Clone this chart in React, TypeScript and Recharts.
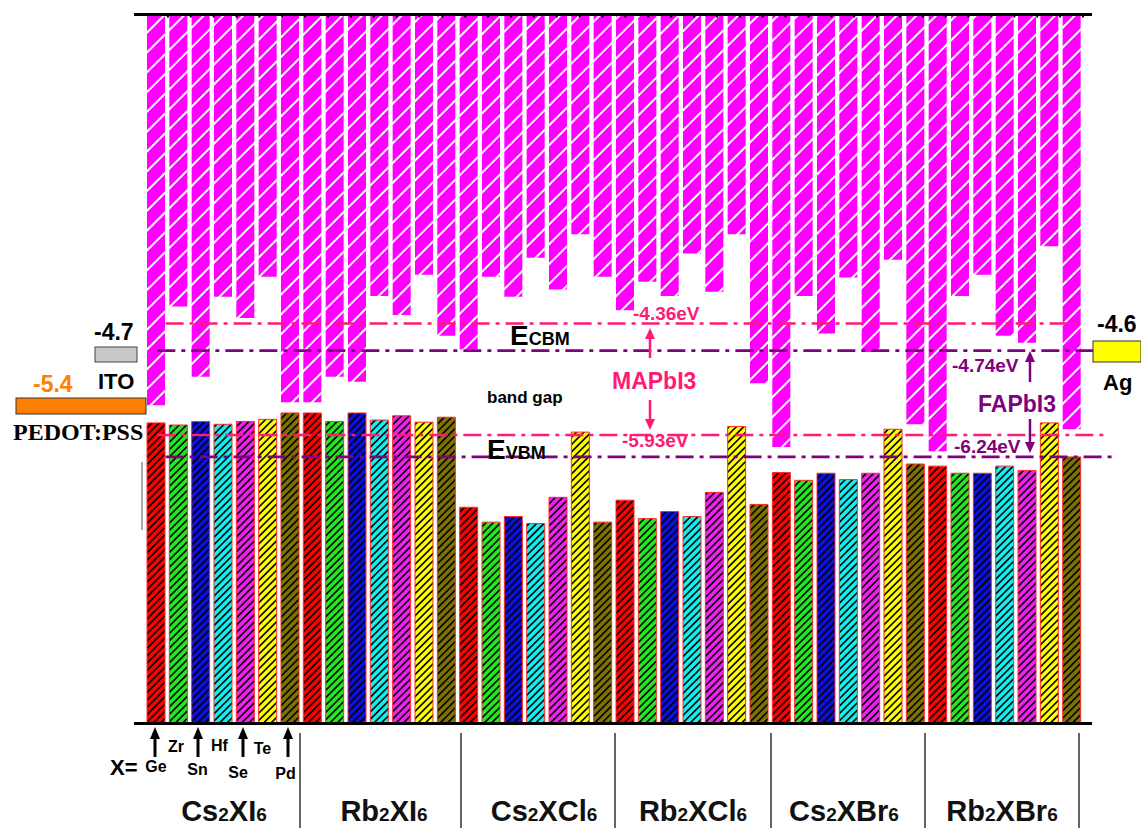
import { BarChart, Bar, XAxis, YAxis, Cell, ReferenceLine } from "recharts";

// compound groups and the X element in each bar
const groups = ["Cs2XI6", "Rb2XI6", "Cs2XCl6", "Rb2XCl6", "Cs2XBr6", "Rb2XBr6"];
const elements = ["Ge", "Zr", "Sn", "Hf", "Se", "Te", "Pd"];
const elementColors = ["#ff0000", "#22e822", "#0a10dd", "#10f0f0", "#f020f0", "#ffff00", "#7d7200"];

// conduction band minimum (eV)
const cbmValues = [
  -5.51, -4.12, -5.11, -3.98, -4.28, -3.7, -5.47,
  -5.47, -5.11, -5.18, -3.97, -4.24, -3.67, -4.53,
  -4.72, -3.7, -3.98, -3.43, -3.88, -3.1, -3.7,
  -4.17, -3.77, -3.97, -3.37, -3.91, -3.1, -5.2,
  -6.1, -3.97, -4.5, -3.71, -4.76, -3.46, -5.78,
  -6.16, -3.97, -3.67, -4.53, -4.63, -3.27, -5.85,
];

// valence band maximum (eV)
const vbmValues = [
  -5.76, -5.79, -5.74, -5.78, -5.74, -5.71, -5.62,
  -5.62, -5.74, -5.62, -5.72, -5.66, -5.75, -5.68,
  -6.95, -7.16, -7.08, -7.18, -6.81, -5.89, -7.16,
  -6.85, -7.11, -7.01, -7.08, -6.74, -5.81, -6.91,
  -6.46, -6.57, -6.47, -6.56, -6.47, -5.85, -6.34,
  -6.37, -6.47, -6.47, -6.37, -6.43, -5.76, -6.24,
];

const Y_MIN = -10;
const Y_MAX = 0;

// reference absorber levels
const mapiCbm = -4.36;
const mapiVbm = -5.93;
const fapiCbm = -4.74;
const fapiVbm = -6.24;

const data = cbmValues.map((cbm, i) => {
  const vbm = vbmValues[i];
  return {
    key: `${groups[Math.floor(i / 7)]}-${elements[i % 7]}`,
    el: i % 7,
    top: cbm,
    gap: vbm - cbm,
    bottom: Y_MIN - vbm,
  };
});

const PINK = "#ff1a75";
const PURPLE = "#800080";
const SANS = "'Liberation Sans', Arial, sans-serif";
const DASH = "18 6 4 6";

function Arrow({ x, y1, y2, color, w = 3, head = 11 }: { x: number; y1: number; y2: number; color: string; w?: number; head?: number }) {
  // y2 is the tip
  const dir = y2 < y1 ? -1 : 1;
  const base = y2 - dir * head;
  return (
    <g>
      <line x1={x} y1={y1} x2={x} y2={base} stroke={color} strokeWidth={w} />
      <polygon points={`${x - 5},${base} ${x + 5},${base} ${x},${y2}`} fill={color} />
    </g>
  );
}

function GroupLabel({ text, x }: { text: string; x: number }) {
  const parts = text.match(/[0-9]+|[^0-9]+/g) || [];
  return (
    <text x={x} y={821} textAnchor="middle" fontFamily={SANS} fontWeight="bold" fontSize={29} fill="#111">
      {parts.map((p, i) => (
        <tspan key={i} fontSize={/[0-9]/.test(p) ? 19 : 29}>{p}</tspan>
      ))}
    </text>
  );
}

const groupCenters = [224, 384, 544, 693, 844, 1002];
const separators = [300, 461, 615, 771, 925, 1079];

export default function App() {
  return (
    <div style={{ position: "absolute", left: 0, top: 0, width: 1141, height: 828, background: "#fff" }}>
      <BarChart
        width={1141}
        height={828}
        data={data}
        margin={{ top: 14.5, right: 49, bottom: 103.5, left: 134 }}
        barSize={18}
      >
        <defs>
          <pattern id="hatchTop" patternUnits="userSpaceOnUse" width={14} height={14} patternTransform="rotate(45)">
            <rect width={14} height={14} fill="#ff00ff" />
            <rect width={2} height={14} fill="#ffffff" />
          </pattern>
          {elementColors.map((c, i) => (
            <pattern key={i} id={`hatch${i}`} patternUnits="userSpaceOnUse" width={5.2} height={5.2} patternTransform="rotate(45)">
              <rect width={5.2} height={5.2} fill={c} />
              <rect width={1.6} height={5.2} fill="#000" />
            </pattern>
          ))}
        </defs>
        <YAxis hide type="number" domain={[Y_MIN, Y_MAX]} allowDataOverflow width={0} />
        <XAxis
          xAxisId="cat"
          dataKey="key"
          type="category"
          height={1}
          tick={false}
          tickLine={false}
          axisLine={{ stroke: "#000", strokeWidth: 3 }}
          padding={{ left: 11, right: 9 }}
        />
        <XAxis
          xAxisId="pos"
          type="number"
          orientation="top"
          domain={[0, 42]}
          allowDataOverflow
          ticks={Array.from({ length: 41 }, (_, i) => i + 1)}
          tickFormatter={() => ""}
          mirror
          tickSize={3}
          tickLine={{ stroke: "#000", strokeWidth: 2 }}
          height={1}
          axisLine={{ stroke: "#000", strokeWidth: 3 }}
          padding={{ left: 11, right: 9 }}
        />
        <Bar xAxisId="cat" dataKey="top" stackId="s" fill="url(#hatchTop)" isAnimationActive={false} />
        <Bar xAxisId="cat" dataKey="gap" stackId="s" fill="transparent" isAnimationActive={false} />
        <Bar xAxisId="cat" dataKey="bottom" stackId="s" isAnimationActive={false} stroke="#ff2a2a" strokeWidth={1}>
          {data.map((d, i) => (
            <Cell key={i} fill={`url(#hatch${d.el})`} />
          ))}
        </Bar>
        <ReferenceLine xAxisId="pos" ifOverflow="visible" segment={[{ x: 0.9, y: mapiCbm }, { x: 40.9, y: mapiCbm }]} stroke={PINK} strokeWidth={2.5} strokeDasharray={DASH} />
        <ReferenceLine xAxisId="pos" ifOverflow="visible" segment={[{ x: 0.54, y: fapiCbm }, { x: 42.3, y: fapiCbm }]} stroke={PURPLE} strokeWidth={2.8} strokeDasharray={DASH} />
        <ReferenceLine xAxisId="pos" ifOverflow="visible" segment={[{ x: 0.54, y: mapiVbm }, { x: 41.94, y: mapiVbm }]} stroke={PINK} strokeWidth={2.5} strokeDasharray={DASH} />
        <ReferenceLine xAxisId="pos" ifOverflow="visible" segment={[{ x: 0.9, y: fapiVbm }, { x: 42.3, y: fapiVbm }]} stroke={PURPLE} strokeWidth={2.8} strokeDasharray={DASH} />
      </BarChart>

      <svg width={1141} height={828} style={{ position: "absolute", left: 0, top: 0, pointerEvents: "none" }}>
        {/* electrodes */}
        <text x={94} y={340} fontFamily={SANS} fontWeight="bold" fontSize={23} fill="#000">-4.7</text>
        <rect x={95} y={347} width={42} height={15} fill="#c8c8c8" stroke="#444" strokeWidth={1} />
        <text x={98} y={389} fontFamily={SANS} fontWeight="bold" fontSize={22} fill="#000">ITO</text>
        <text x={33} y={392} fontFamily={SANS} fontWeight="bold" fontSize={23} fill="#ff8000">-5.4</text>
        <rect x={16} y={398} width={130} height={16} fill="#ff8000" stroke="#333" strokeWidth={1} />
        <text x={13} y={440} fontFamily="'Liberation Serif', 'Times New Roman', serif" fontWeight="bold" fontSize={24} fill="#000">PEDOT:PSS</text>
        <text x={1097} y={332} fontFamily={SANS} fontWeight="bold" fontSize={23} fill="#000">-4.6</text>
        <rect x={1093} y={341} width={48} height={21} fill="#ffff00" stroke="#333" strokeWidth={1} />
        <text x={1103} y={390} fontFamily={SANS} fontWeight="bold" fontSize={22} fill="#000">Ag</text>
        <line x1={142} y1={462} x2={142} y2={530} stroke="#555" strokeWidth={1} />

        {/* band labels */}
        <text x={510} y={345} fontFamily={SANS} fontWeight="bold" fontSize={28} fill="#000">
          E<tspan fontSize={18}>CBM</tspan>
        </text>
        <text x={487} y={459} fontFamily={SANS} fontWeight="bold" fontSize={28} fill="#000">
          E<tspan fontSize={18}>VBM</tspan>
        </text>
        <text x={487} y={403} fontFamily={SANS} fontWeight="bold" fontSize={17} fill="#000">band gap</text>

        {/* MAPbI3 */}
        <text x={633} y={320} fontFamily={SANS} fontWeight="bold" fontSize={19} fill={PINK}>-4.36eV</text>
        <Arrow x={650} y1={358} y2={328} color={PINK} w={2.5} />
        <text x={612} y={389} fontFamily={SANS} fontWeight="bold" fontSize={23} fill={PINK}>MAPbI3</text>
        <Arrow x={650} y1={400} y2={430} color={PINK} w={2.5} />
        <text x={622} y={447} fontFamily={SANS} fontWeight="bold" fontSize={19} fill={PINK}>-5.93eV</text>

        {/* FAPbI3 */}
        <text x={952} y={372} fontFamily={SANS} fontWeight="bold" fontSize={19} fill={PURPLE}>-4.74eV</text>
        <Arrow x={1030} y1={382} y2={351} color={PURPLE} w={2.5} />
        <text x={978} y={412} fontFamily={SANS} fontWeight="bold" fontSize={23} fill={PURPLE}>FAPbI3</text>
        <Arrow x={1030} y1={419} y2={453} color={PURPLE} w={2.5} />
        <text x={954} y={453} fontFamily={SANS} fontWeight="bold" fontSize={19} fill={PURPLE}>-6.24eV</text>

        {/* X element key */}
        <text x={110} y={775} fontFamily={SANS} fontWeight="bold" fontSize={22} fill="#000">X=</text>
        {[155, 198, 243, 288].map((x) => (
          <Arrow key={x} x={x} y1={757} y2={727} color="#000" w={3} head={12} />
        ))}
        <text x={156} y={772} textAnchor="middle" fontFamily={SANS} fontWeight="bold" fontSize={16}>{elements[0]}</text>
        <text x={176} y={752} textAnchor="middle" fontFamily={SANS} fontWeight="bold" fontSize={16}>{elements[1]}</text>
        <text x={197.5} y={775} textAnchor="middle" fontFamily={SANS} fontWeight="bold" fontSize={16}>{elements[2]}</text>
        <text x={219.5} y={751} textAnchor="middle" fontFamily={SANS} fontWeight="bold" fontSize={16}>{elements[3]}</text>
        <text x={238} y={778} textAnchor="middle" fontFamily={SANS} fontWeight="bold" fontSize={16}>{elements[4]}</text>
        <text x={262.5} y={754} textAnchor="middle" fontFamily={SANS} fontWeight="bold" fontSize={16}>{elements[5]}</text>
        <text x={285.5} y={779} textAnchor="middle" fontFamily={SANS} fontWeight="bold" fontSize={16}>{elements[6]}</text>

        {/* groups */}
        {separators.map((x) => (
          <line key={x} x1={x} y1={733} x2={x} y2={828} stroke="#333" strokeWidth={1.5} />
        ))}
        {groups.map((g, i) => (
          <GroupLabel key={g} text={g} x={groupCenters[i]} />
        ))}
      </svg>
    </div>
  );
}
